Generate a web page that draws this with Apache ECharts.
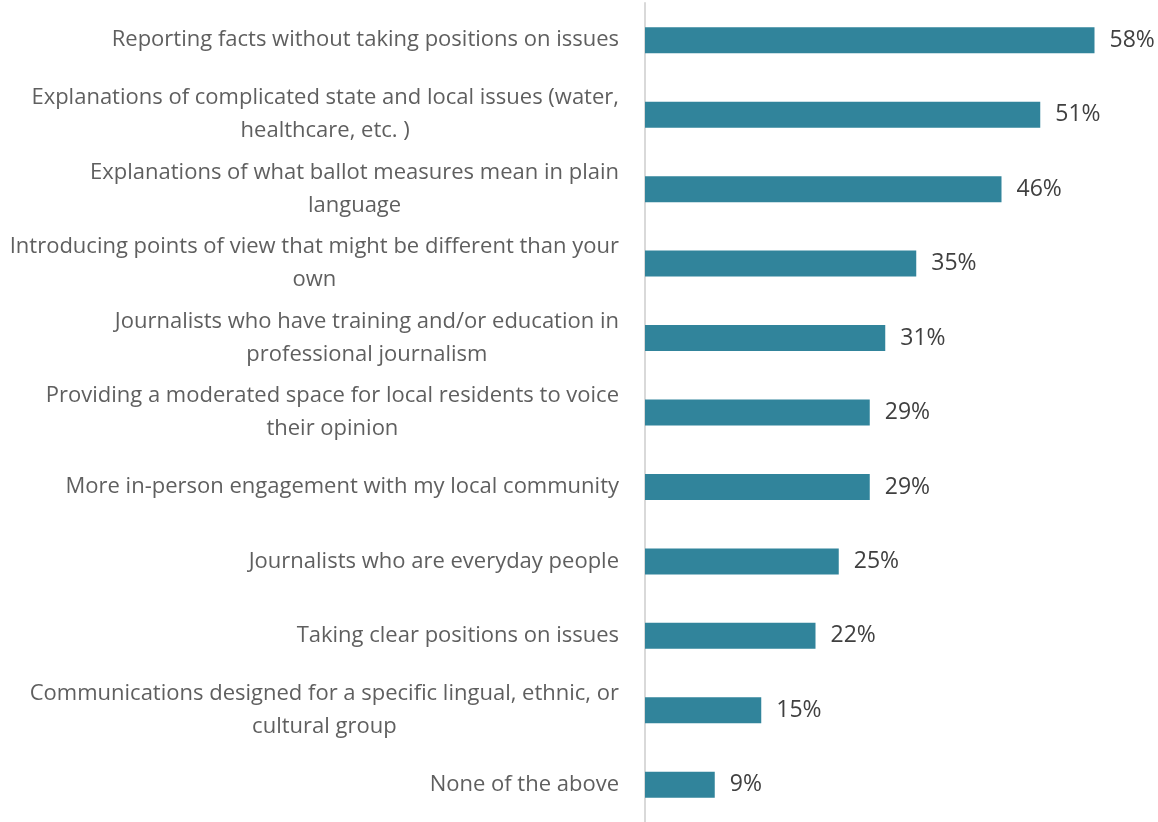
<!DOCTYPE html>
<html><head><meta charset="utf-8">
<script src="https://cdn.jsdelivr.net/npm/echarts@6/dist/echarts.min.js"></script>
<style>html,body{margin:0;padding:0;background:#fff}#c{width:1158px;height:822px}</style>
</head><body><div id="c"></div>
<script>
const categories = [
  "Reporting facts without taking positions on issues",
  "Explanations of complicated state and local issues (water,\nhealthcare, etc. )",
  "Explanations of what ballot measures mean in plain\nlanguage",
  "Introducing points of view that might be different than your\nown",
  "Journalists who have training and/or education in\nprofessional journalism",
  "Providing a moderated space for local residents to voice\ntheir opinion",
  "More in-person engagement with my local community",
  "Journalists who are everyday people",
  "Taking clear positions on issues",
  "Communications designed for a specific lingual, ethnic, or\ncultural group",
  "None of the above"
];
const values = [58, 51, 46, 35, 31, 29, 29, 25, 22, 15, 9];

const FONT = "Open Sans";
const chart = echarts.init(document.getElementById('c'));
chart.setOption({
  animation: false,
  grid: {left: 645, right: 48, top: 3, bottom: 0, containLabel: false},
  xAxis: {type: 'value', min: 0, max: 60, show: false},
  yAxis: {
    type: 'category', data: categories, inverse: true,
    axisLine: {show: true, lineStyle: {color: '#D9D9D9', width: 2}},
    axisTick: {show: false},
    axisLabel: {
      margin: 26, fontFamily: FONT, fontSize: 22, color: '#5f5f5f', lineHeight: 33,
      formatter: function (v) {
        return v.split('\n').map(function (l) { return '{c|' + l + '}'; }).join('\n');
      },
      rich: {c: {align: 'center', fontFamily: FONT, fontSize: 22, color: '#5f5f5f', lineHeight: 33}}
    }
  },
  series: [{
    type: 'bar', data: values, barWidth: 26,
    itemStyle: {color: '#31849B'},
    label: {show: true, position: 'right', distance: 15, formatter: '{c}%',
      fontFamily: FONT, fontSize: 23, color: '#404040'}
  }]
});
</script></body></html>
